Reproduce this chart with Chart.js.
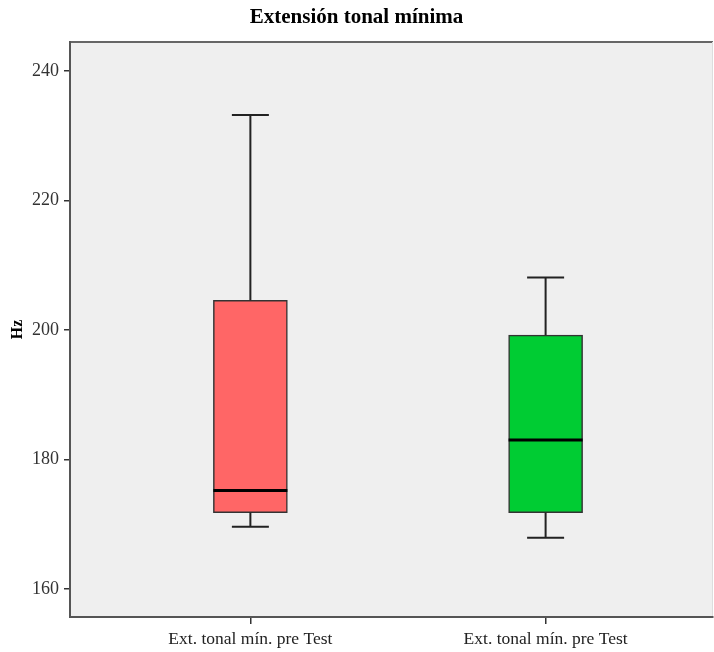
<!DOCTYPE html>
<html>
<head>
<meta charset="utf-8">
<script src="https://cdn.jsdelivr.net/npm/chart.js@4"></script>
<style>
  html, body { margin: 0; padding: 0; background: #ffffff; }
  #wrap { width: 714px; height: 652px; }
</style>
</head>
<body>
<div id="wrap"><canvas id="chart" width="714" height="652"></canvas></div>
<script>
// Box-plot summary for each group (Hz)
const categories = ['Ext. tonal mín. pre Test', 'Ext. tonal mín. pre Test'];
const minVals    = [169.6, 167.9];
const q1Vals     = [171.8, 171.8];
const medianVals = [175.2, 183.0];
const q3Vals     = [204.6, 199.2];
const maxVals    = [233.2, 208.1];
const yTicks     = [160, 180, 200, 220, 240];
const boxColors  = ['#FF6666', '#00CC33'];

const SERIF = '"Liberation Serif", "Times New Roman", serif';

// Plot background and frame
const frame = {
  id: 'frame',
  beforeDraw(chart) {
    const { ctx, chartArea: a } = chart;
    ctx.save();
    ctx.fillStyle = '#EFEFEF';
    ctx.fillRect(a.left, a.top, a.right - a.left, a.bottom - a.top);
    ctx.strokeStyle = '#666666';
    ctx.lineWidth = 2;
    ctx.beginPath();
    ctx.moveTo(a.left, a.top);
    ctx.lineTo(a.right, a.top);
    ctx.stroke();
    ctx.strokeStyle = '#DDDDDD';
    ctx.lineWidth = 1;
    ctx.beginPath();
    ctx.moveTo(a.right - 0.5, a.top);
    ctx.lineTo(a.right - 0.5, a.bottom);
    ctx.stroke();
    ctx.restore();
  }
};

// Whiskers, caps and medians drawn from the summary arrays
const whiskers = {
  id: 'whiskers',
  afterDatasetsDraw(chart) {
    const { ctx, scales: { x, y } } = chart;
    const meta = chart.getDatasetMeta(0);
    ctx.save();
    categories.forEach((c, i) => {
      const cx = x.getPixelForValue(i + 1);
      const bw = meta.data[i].width;
      const cap = bw / 2;
      ctx.strokeStyle = '#222222';
      ctx.lineWidth = 2;
      ctx.beginPath();
      ctx.moveTo(cx, y.getPixelForValue(q3Vals[i]));
      ctx.lineTo(cx, y.getPixelForValue(maxVals[i]));
      ctx.moveTo(cx - cap / 2, y.getPixelForValue(maxVals[i]));
      ctx.lineTo(cx + cap / 2, y.getPixelForValue(maxVals[i]));
      ctx.moveTo(cx, y.getPixelForValue(q1Vals[i]));
      ctx.lineTo(cx, y.getPixelForValue(minVals[i]));
      ctx.moveTo(cx - cap / 2, y.getPixelForValue(minVals[i]));
      ctx.lineTo(cx + cap / 2, y.getPixelForValue(minVals[i]));
      ctx.stroke();
      ctx.strokeStyle = '#000000';
      ctx.lineWidth = 3;
      ctx.beginPath();
      ctx.moveTo(cx - bw / 2, y.getPixelForValue(medianVals[i]));
      ctx.lineTo(cx + bw / 2, y.getPixelForValue(medianVals[i]));
      ctx.stroke();
    });
    ctx.restore();
  }
};

new Chart(document.getElementById('chart'), {
  type: 'bar',
  data: {
    datasets: [{
      data: categories.map((c, i) => ({ x: i + 1, y: [q1Vals[i], q3Vals[i]] })),
      backgroundColor: boxColors,
      borderColor: '#333333',
      borderWidth: 1.5,
      borderSkipped: false,
      barThickness: 74
    }]
  },
  options: {
    responsive: false,
    animation: false,
    layout: { padding: { left: 0, right: 1, top: 0, bottom: 0 } },
    plugins: {
      legend: { display: false },
      tooltip: { enabled: false },
      title: {
        display: true,
        text: 'Extensión tonal mínima',
        color: '#000000',
        font: { family: SERIF, size: 21, weight: 'bold' },
        padding: { top: 5, bottom: 11.8 }
      }
    },
    scales: {
      x: {
        type: 'linear',
        offset: false,
        min: 0.389,
        max: 2.567,
        afterBuildTicks(scale) { scale.ticks = categories.map((c, i) => ({ value: i + 1 })); },
        afterFit(scale) { scale.height = 35; },
        ticks: {
          callback: (v) => categories[v - 1],
          color: '#222222',
          font: { family: SERIF, size: 17.5 },
          padding: 5,
          maxRotation: 0,
          autoSkip: false
        },
        grid: { offset: false, drawOnChartArea: false, drawTicks: true, tickLength: 7, color: '#333333', lineWidth: 1.5 },
        border: { display: true, color: '#555555', width: 2 }
      },
      y: {
        min: 155.68,
        max: 244.48,
        afterBuildTicks(scale) { scale.ticks = yTicks.map(v => ({ value: v })); },
        afterFit(scale) { scale.width = 70; },
        ticks: {
          color: '#333333',
          font: { family: SERIF, size: 18 },
          padding: 5
        },
        title: {
          display: true,
          text: 'Hz',
          color: '#000000',
          font: { family: SERIF, size: 16, weight: 'bold' },
          padding: { top: 8, bottom: 2 }
        },
        grid: { drawOnChartArea: false, drawTicks: true, tickLength: 6, color: '#333333', lineWidth: 1.5 },
        border: { display: true, color: '#555555', width: 2 }
      }
    }
  },
  plugins: [frame, whiskers]
});
</script>
</body>
</html>
